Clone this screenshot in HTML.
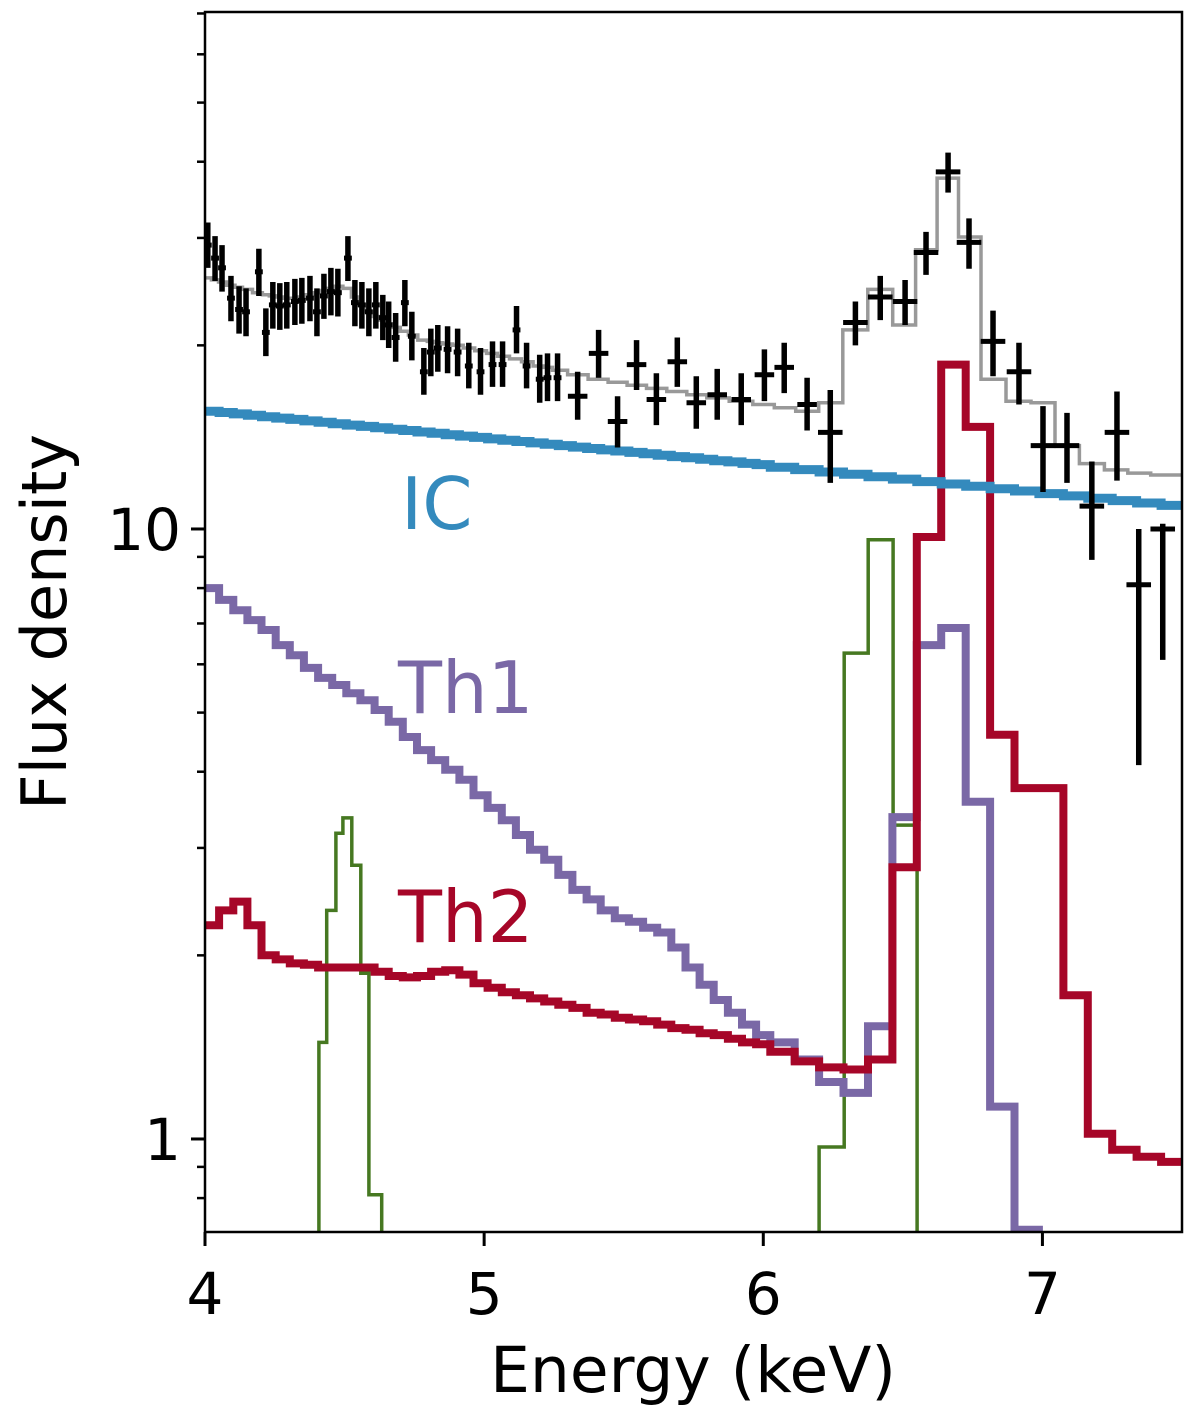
<!DOCTYPE html>
<html><head><meta charset="utf-8"><style>
html,body{margin:0;padding:0;background:#fff;}
svg{display:block;font-family:"DejaVu Sans","Liberation Sans",sans-serif;}
</style></head><body>
<svg id="chart" width="1200" height="1422" viewBox="0 0 1200 1422" xmlns="http://www.w3.org/2000/svg">
<defs><clipPath id="clip"><rect x="205" y="12" width="977" height="1220"/></clipPath></defs>
<g id="plot" clip-path="url(#clip)"></g>
<g id="axes"></g>
</svg>
<script>
// ---- data ----
const dataE = [4.01,4.036,4.061,4.093,4.122,4.147,4.193,4.218,4.243,4.268,4.293,4.322,4.347,4.376,4.401,4.426,4.451,4.476,4.512,4.537,4.562,4.587,4.612,4.637,4.658,4.683,4.716,4.741,4.784,4.809,4.834,4.869,4.905,4.945,4.987,5.03,5.066,5.116,5.152,5.199,5.227,5.263,5.335,5.41,5.478,5.546,5.617,5.692,5.76,5.835,5.921,6.004,6.075,6.157,6.24,6.33,6.419,6.508,6.583,6.662,6.737,6.823,6.916,7.002,7.088,7.177,7.267,7.345,7.431];
const dataFlux = [29.2,27.8,26.8,23.9,22.9,22.7,26.4,21.0,23.3,23.2,23.3,23.6,23.7,23.9,22.7,24.1,24.5,24.4,27.8,23.5,23.3,22.7,23.3,22.2,21.6,20.6,23.5,20.7,18.1,19.5,19.8,19.7,19.5,18.5,18.1,18.6,18.6,21.2,18.5,17.6,17.7,17.7,16.5,19.4,15.0,18.6,16.3,18.8,16.1,16.6,16.3,17.9,18.4,16.0,14.4,21.8,24.0,23.6,28.4,38.5,29.5,20.3,18.1,13.7,13.7,10.9,14.4,8.1,10.0];
const dataErrHi = [2.6,2.4,2.4,2.1,2.1,2.1,2.4,2.0,2.1,2.1,2.1,2.1,2.1,2.1,2.1,2.1,2.3,2.3,2.4,2.1,2.1,2.1,2.1,2.0,2.0,2.0,2.1,2.0,1.7,1.8,1.8,1.8,1.8,1.7,1.7,1.7,1.7,2.0,1.7,1.7,1.7,1.7,1.6,1.8,1.5,1.8,1.7,1.8,1.7,1.7,1.7,1.8,1.8,1.7,2.5,1.8,2.0,2.0,2.3,2.9,2.8,2.5,2.1,2.2,1.8,2.0,2.4,1.9,0.2];
const dataErrLo = [2.4,2.3,2.3,2.0,2.0,2.0,2.3,1.8,2.0,2.0,2.0,2.0,2.0,2.0,2.0,2.0,2.1,2.1,2.3,2.0,2.0,2.0,2.0,1.8,1.8,1.8,2.0,1.8,1.5,1.7,1.7,1.7,1.7,1.5,1.5,1.5,1.5,1.8,1.5,1.5,1.5,1.5,1.4,1.7,1.4,1.7,1.5,1.7,1.5,1.5,1.5,1.7,1.7,1.5,2.5,1.8,2.0,2.0,2.3,2.9,2.8,2.5,2.1,2.2,1.8,2.0,2.4,4.0,3.9];
const dataXErr = [0.014,0.014,0.014,0.014,0.014,0.014,0.014,0.014,0.014,0.014,0.014,0.014,0.014,0.014,0.014,0.014,0.014,0.014,0.014,0.014,0.014,0.014,0.014,0.014,0.014,0.014,0.014,0.014,0.014,0.014,0.014,0.014,0.014,0.014,0.014,0.014,0.014,0.014,0.014,0.014,0.014,0.014,0.035,0.035,0.035,0.035,0.035,0.035,0.035,0.035,0.035,0.035,0.035,0.035,0.044,0.044,0.044,0.044,0.044,0.044,0.044,0.044,0.044,0.044,0.044,0.044,0.044,0.044,0.044];
const modelFlux = [25.8,25.6,25.4,25.1,24.9,24.7,24.4,24.2,24.1,24.0,23.9,23.9,24.0,24.2,24.4,24.6,24.8,25.0,24.8,24.0,23.3,22.7,22.3,22.0,21.7,21.4,21.1,20.8,20.4,20.3,20.2,20.1,20.0,19.8,19.6,19.4,19.2,19.0,18.8,18.5,18.4,18.2,17.9,17.6,17.4,17.2,17.0,16.8,16.6,16.4,16.2,16.0,15.8,15.6,16.1,21.2,24.7,21.6,28.7,37.6,30.1,17.6,16.2,16.1,13.7,12.8,12.5,12.35,12.26];
const icFlux = [15.6,15.52,15.44,15.36,15.28,15.20,15.12,15.04,14.96,14.88,14.80,14.73,14.65,14.57,14.50,14.42,14.35,14.27,14.20,14.13,14.05,13.98,13.91,13.84,13.77,13.70,13.62,13.55,13.48,13.42,13.35,13.28,13.21,13.14,13.08,13.01,12.94,12.88,12.81,12.75,12.62,12.51,12.40,12.29,12.18,12.07,11.96,11.85,11.75,11.64,11.54,11.43,11.33,11.23,11.13,11.03,10.93];
const th1Flux = [8.00,7.65,7.36,7.09,6.83,6.45,6.21,5.92,5.70,5.55,5.38,5.24,5.05,4.83,4.56,4.34,4.18,4.03,3.88,3.66,3.49,3.33,3.15,2.98,2.87,2.71,2.56,2.47,2.37,2.30,2.27,2.22,2.18,2.06,1.91,1.79,1.69,1.61,1.54,1.48,1.44,1.35,1.24,1.19,1.53,3.37,6.45,6.88,3.57,1.13,0.71,0.5,0.5,0.5,0.5,0.5,0.5];
const th2Flux = [2.24,2.37,2.45,2.24,2.00,1.97,1.94,1.93,1.91,1.91,1.91,1.91,1.88,1.85,1.84,1.85,1.88,1.89,1.86,1.80,1.77,1.74,1.72,1.70,1.68,1.66,1.64,1.61,1.60,1.58,1.57,1.56,1.54,1.52,1.51,1.49,1.48,1.46,1.44,1.43,1.39,1.34,1.31,1.30,1.35,2.79,9.7,18.6,14.7,4.6,3.76,3.76,1.72,1.02,0.96,0.935,0.917];
const greenEdgesA = [4.408,4.436,4.469,4.494,4.526,4.558,4.587,4.633];
const greenFluxA = [1.44,2.37,3.17,3.36,2.81,1.87,0.81];
const greenEdgesB = [6.2,6.29,6.376,6.465,6.551];
const greenFluxB = [0.97,6.26,9.6,3.27];
const xTicks = [4,5,6,7];
const yMajor = [1,10];
const yMinor = [0.8,0.9,2,3,4,5,6,7,8,9,20,30,40,50,60,70];

// ---- axes functions ----
const X0=205,X1=1182,Y0=12,Y1=1232;
const EMIN=4, EMAX=7.5;
const LMIN=-0.1525, LMAX=1.8475;
function xs(e){return X0+(e-EMIN)/(EMAX-EMIN)*(X1-X0);}
function ys(v){return Y1-(Math.log10(v)-LMIN)/(LMAX-LMIN)*(Y1-Y0);}

const compEdges=[];
for(let i=0;i<=40;i++) compEdges.push(4+i*(6.025-4)/40);
for(let i=1;i<=17;i++) compEdges.push(6.025+i*0.0875);

const NS='http://www.w3.org/2000/svg';
const plot=document.getElementById('plot');
const axes=document.getElementById('axes');
function mk(tag,attrs,parent){const el=document.createElementNS(NS,tag);for(const k in attrs)el.setAttribute(k,attrs[k]);parent.appendChild(el);return el;}

function stepPath(edges,vals,dropStart,dropEnd){
  let d='';
  for(let i=0;i<vals.length;i++){
    const y=ys(vals[i]).toFixed(1);
    if(i===0){ d+= dropStart ? `M${xs(edges[0]).toFixed(1)},${Y1+20} L${xs(edges[0]).toFixed(1)},${y}` : `M${xs(edges[0]).toFixed(1)},${y}`; }
    else d+=` L${xs(edges[i]).toFixed(1)},${y}`;
    d+=` L${xs(edges[i+1]).toFixed(1)},${y}`;
  }
  if(dropEnd) d+=` L${xs(edges[vals.length]).toFixed(1)},${Y1+20}`;
  return d;
}

let p=mk('path',{d:stepPath(greenEdgesA,greenFluxA,true,true),fill:'none',stroke:'#467821','stroke-width':3.5},plot);


p=mk('path',{d:stepPath(greenEdgesB,greenFluxB,true,true),fill:'none',stroke:'#467821','stroke-width':3.5},plot);


p=mk('path',{d:stepPath(compEdges,th1Flux,false,false),fill:'none',stroke:'#7A68A6','stroke-width':8},plot);


p=mk('path',{d:stepPath(compEdges,th2Flux,false,false),fill:'none',stroke:'#A60628','stroke-width':8},plot);


p=mk('path',{d:stepPath(compEdges,icFlux,false,false),fill:'none',stroke:'#348ABD','stroke-width':9},plot);


const modelEdges=[EMIN];
for(let i=0;i<dataE.length-1;i++) modelEdges.push((dataE[i]+dataE[i+1])/2);
modelEdges.push(EMAX);
p=mk('path',{d:stepPath(modelEdges,modelFlux,false,false),fill:'none',stroke:'#999999','stroke-width':3.5},plot);


for(let i=0;i<dataE.length;i++){
  const g=mk('g',{},plot);
  
  
  const x=xs(dataE[i]), y=ys(dataFlux[i]);
  mk('line',{x1:x,x2:x,y1:ys(dataFlux[i]+dataErrHi[i]),y2:ys(Math.max(dataFlux[i]-dataErrLo[i],0.01)),stroke:'#000','stroke-width':5.5},g);
  mk('line',{x1:xs(dataE[i]-dataXErr[i]),x2:xs(dataE[i]+dataXErr[i]),y1:y,y2:y,stroke:'#000','stroke-width':5},g);
}
function label(txt,x,y,col,name){const t=mk('text',{x:x,y:y,fill:col,'font-size':72},plot);t.textContent=txt;}
label('IC',401,529,'#348ABD','ic-label');
label('Th1',398,713,'#7A68A6','th1-label');
label('Th2',398,942,'#A60628','th2-label');

const fr=mk('rect',{x:X0,y:Y0,width:X1-X0,height:Y1-Y0,fill:'none',stroke:'#000','stroke-width':2.5},axes);


for(const t of xTicks){
  const x=xs(t);
  mk('line',{x1:x,x2:x,y1:Y1,y2:Y1+14,stroke:'#000','stroke-width':3},axes);
  const tx=mk('text',{x:x,y:1314,'text-anchor':'middle','font-size':58},axes);
  tx.textContent=String(t);
  
  
}
for(const t of yMajor){
  const y=ys(t);
  mk('line',{x1:X0-14,x2:X0,y1:y,y2:y,stroke:'#000','stroke-width':3},axes);
  const tx=mk('text',{x:X0-24,y:y+21,'text-anchor':'end','font-size':58},axes);
  tx.textContent=String(t);
  
  
}
for(const t of yMinor){
  const y=ys(t);
  if(y<Y0||y>Y1) continue;
  mk('line',{x1:X0-8,x2:X0,y1:y,y2:y,stroke:'#000','stroke-width':2.5},axes);
}
const xt=mk('text',{x:693,y:1392,'text-anchor':'middle','font-size':63},axes);
xt.textContent='Energy (keV)';


const yt=mk('text',{x:0,y:0,'text-anchor':'middle','font-size':62,transform:'translate(66,622) rotate(-90)'},axes);
yt.textContent='Flux density';


</script>
</body></html>
